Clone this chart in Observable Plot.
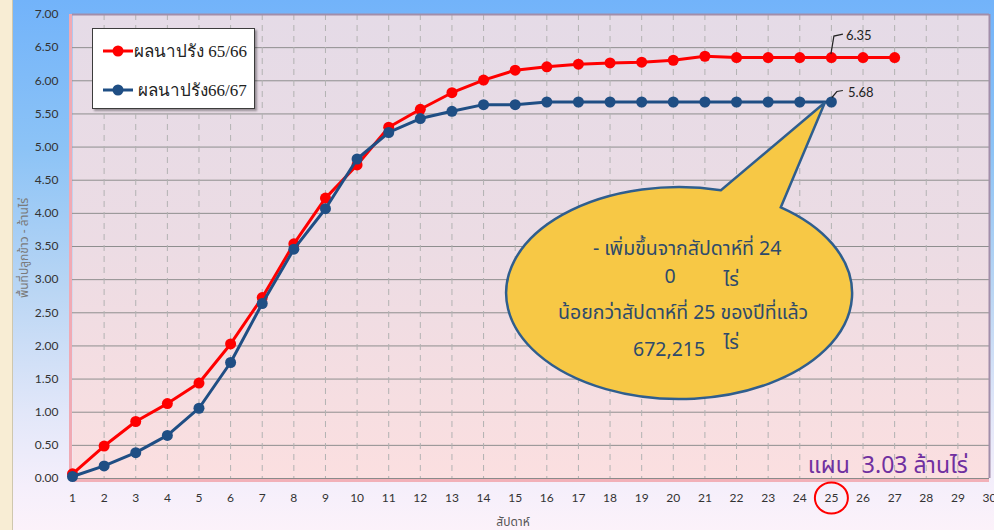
<!DOCTYPE html>
<html><head><meta charset="utf-8">
<script src="https://cdn.jsdelivr.net/npm/d3@7"></script>
<script src="https://cdn.jsdelivr.net/npm/@observablehq/plot@0.6"></script>
<style>
html,body{margin:0;padding:0;background:#fff;}
#wrap{position:relative;width:994px;height:530px;overflow:hidden;
 background:linear-gradient(to bottom,#72b3fa 0%,#8cc3f6 28%,#bad6f4 55%,#e2e7f9 78%,#f5effb 92%,#fcf2fa 100%);}
#strip{position:absolute;left:0;top:0;width:12px;height:530px;background:#f8edd4;border-right:1px solid #cfc7ae;}
#chart{position:absolute;left:0;top:0;}
#legend{position:absolute;left:92px;top:28px;width:161px;height:79px;background:#fff;border:1px solid #3c3c3c;
 box-shadow:2px 2px 2px rgba(0,0,0,0.35);font-family:"Liberation Serif","DejaVu Serif",serif;font-size:17px;color:#222;}
.entry{position:absolute;left:9px;display:flex;align-items:center;white-space:pre;}
</style></head>
<body>
<div id="wrap"><div id="strip"></div><div id="chart"></div><div id="legend"></div></div>
<script>
// ---- data ----
const weeks6566 = [1,2,3,4,5,6,7,8,9,10,11,12,13,14,15,16,17,18,19,20,21,22,23,24,25,26,27];
const rice6566  = [0.07,0.49,0.86,1.13,1.44,2.03,2.73,3.54,4.23,4.73,5.30,5.57,5.82,6.01,6.16,6.21,6.25,6.27,6.28,6.31,6.37,6.35,6.35,6.35,6.35,6.35,6.35];
const weeks6667 = [1,2,3,4,5,6,7,8,9,10,11,12,13,14,15,16,17,18,19,20,21,22,23,24,25];
const rice6667  = [0.03,0.19,0.39,0.65,1.06,1.75,2.64,3.46,4.07,4.82,5.22,5.43,5.54,5.64,5.64,5.68,5.68,5.68,5.68,5.68,5.68,5.68,5.68,5.68,5.68];
const seriesNames = ["ผลนาปรัง 65/66", "ผลนาปรัง66/67"];
const seriesColors = ["#ff0000", "#1f4e84"];
const xTicks = [1,2,3,4,5,6,7,8,9,10,11,12,13,14,15,16,17,18,19,20,21,22,23,24,25,26,27,28,29,30];
const yTicks = [0,0.5,1,1.5,2,2.5,3,3.5,4,4.5,5,5.5,6,6.5,7];
const labeledWeek = 25;
const calloutLines = ["- เพิ่มขึ้นจากสัปดาห์ที่ 24", "น้อยกว่าสัปดาห์ที่ 25 ของปีที่แล้ว"];
const calloutNumbers = ["0", "672,215"];
const calloutUnit = "ไร่";
const planText = "แผน  3.03 ล้านไร่";
const yTitle = "พื้นที่ปลูกข้าว - ล้านไร่";
const xTitle = "สัปดาห์";

const s1 = weeks6566.map((w,i)=>({week:w, value:rice6566[i]}));
const s2 = weeks6667.map((w,i)=>({week:w, value:rice6667[i]}));
const thaiFont = "Tahoma,'Noto Sans Thai','Noto Sans Thai UI',Loma,Garuda,'Leelawadee UI',sans-serif";

function annotations(index, scales, values, dim) {
  const {x, y} = scales;
  const g = d3.create("svg:g");
  // callout bubble
  const tipX = x(labeledWeek) - 6, tipY = y(5.68) + 1;
  const cx = x(20.2), cy = y(2.79), rx = 173, ry = 106;
  const t1 = -76*Math.PI/180, t2 = -54*Math.PI/180;
  const p1 = [cx+rx*Math.cos(t1), cy+ry*Math.sin(t1)];
  const p2 = [cx+rx*Math.cos(t2), cy+ry*Math.sin(t2)];
  g.append("path")
    .attr("d", `M${p2[0]},${p2[1]}L${tipX},${tipY}L${p1[0]},${p1[1]}A${rx},${ry} 0 1 0 ${p2[0]},${p2[1]}Z`)
    .attr("fill", "#f7c845").attr("stroke", "#2f5e8e").attr("stroke-width", 2.5);
  const tg = g.append("g").attr("fill", "#2e4a6b").attr("font-family", thaiFont)
    .style("font-size", "19.5px").attr("text-anchor","middle");
  const oy = cy - y(2.82);
  tg.append("text").attr("x", cx+8).attr("y", cy-43-oy).attr("dy","0.35em").text(calloutLines[0]);
  tg.append("text").attr("x", cx-9).attr("y", cy-15-oy).attr("dy","0.35em").text(calloutNumbers[0]);
  tg.append("text").attr("x", cx+52).attr("y", cy-12-oy).attr("dy","0.35em").text(calloutUnit);
  tg.append("text").attr("x", cx+4).attr("y", cy+21-oy).attr("dy","0.35em").text(calloutLines[1]);
  tg.append("text").attr("x", cx-10).attr("y", cy+58-oy).attr("dy","0.35em").text(calloutNumbers[1]);
  tg.append("text").attr("x", cx+52).attr("y", cy+51-oy).attr("dy","0.35em").text(calloutUnit);
  // value labels with leader lines
  const leaders = [
    {s: s1, path: [[0,-3],[3,-21],[12,-23]], text: [15,-22]},
    {s: s2, path: [[1,-4],[6,-10],[12,-11]], text: [17,-9]}
  ];
  leaders.forEach(({s, path, text}) => {
    const d = s.find(e => e.week === labeledWeek);
    const px = x(d.week), py = y(d.value);
    g.append("path").attr("d", "M" + path.map(([a,b]) => `${px+a},${py+b}`).join("L"))
      .attr("fill","none").attr("stroke","#222").attr("stroke-width",1.2);
    g.append("text").attr("x", px+text[0]).attr("y", py+text[1]).attr("dy","0.35em")
      .attr("text-anchor","start")
      .attr("font-family","Lato,'Open Sans',sans-serif").style("font-size","13px").attr("fill","#222")
      .text(d.value.toFixed(2));
  });
  // plan text
  g.append("text").attr("x", x(30)-21).attr("y", y(0)-5)
    .attr("text-anchor","end").attr("fill","#7030a0").style("font-size","23px")
    .attr("font-family", thaiFont).style("white-space","pre").text(planText);
  // red circle around week 25 tick label
  g.append("ellipse").attr("cx", x(labeledWeek)+0.5).attr("cy", y(0)+20).attr("rx",16.5).attr("ry",15.5)
    .attr("fill","none").attr("stroke","#ff0000").attr("stroke-width",2);
  // axis titles
  g.append("text").attr("transform", `translate(24,${(y(0)+y(7))/2+2}) rotate(-90)`)
    .attr("text-anchor","middle").attr("dy","0.35em").style("font-size","12px").attr("fill","#7a7a7a")
    .attr("font-family", thaiFont).text(yTitle);
  g.append("text").attr("x", 513).attr("y", y(0)+44).attr("dy","0.35em")
    .attr("text-anchor","middle").style("font-size","12px").attr("fill","#555")
    .attr("font-family", thaiFont).text(xTitle);
  return g.node();
}

const chart = Plot.plot({
  width: 994, height: 530,
  marginLeft: 72, marginRight: 5, marginTop: 14, marginBottom: 52,
  style: {background: "transparent", fontFamily: "Lato,'Open Sans',sans-serif", fontSize: "12px", color: "#333", overflow: "visible"},
  x: {domain: [1, 30], label: null},
  y: {domain: [0, 7], label: null},
  marks: [
    Plot.frame({fill: "url(#plotBg)", stroke: "none"}),
    Plot.gridY(yTicks.filter(v => v > 0 && v < 7), {stroke: "#8e8e8e", strokeOpacity: 1, strokeWidth: 1}),
    Plot.gridX(xTicks.filter(v => v > 1 && v < 30), {stroke: "#b2b2b2", strokeOpacity: 1, strokeDasharray: "6,5"}),
    Plot.ruleX([1], {stroke: "#f0aab4", strokeWidth: 3, dx: -2}),
    Plot.ruleY([0], {stroke: "#f2b0b8", strokeWidth: 3, dy: 2}),
    Plot.ruleY([0], {stroke: "#8a8a8a", strokeWidth: 1}),
    Plot.ruleY([7], {stroke: "#a28eaa", strokeWidth: 2}),
    Plot.ruleX([30], {stroke: "#a28eaa", strokeWidth: 2}),
    Plot.axisX(xTicks, {tickSize: 0, tickPadding: 15, tickFormat: d => d, fill: "#333", fontSize: 12}),
    Plot.axisY(yTicks, {tickSize: 0, tickPadding: 14, tickFormat: d3.format(".2f"), fill: "#333", fontSize: 12}),
    Plot.line(s1, {x: "week", y: "value", stroke: seriesColors[0], strokeWidth: 3}),
    Plot.dot(s1, {x: "week", y: "value", fill: seriesColors[0], r: 5.5}),
    Plot.line(s2, {x: "week", y: "value", stroke: seriesColors[1], strokeWidth: 3}),
    Plot.dot(s2, {x: "week", y: "value", fill: seriesColors[1], r: 5.5}),
    annotations
  ]
});
const svg = d3.select(chart);
const defs = svg.insert("defs", ":first-child");
const grad = defs.append("linearGradient").attr("id","plotBg").attr("x1",0).attr("y1",0).attr("x2",0).attr("y2",1);
grad.append("stop").attr("offset","0%").attr("stop-color","#e5dbe7");
grad.append("stop").attr("offset","50%").attr("stop-color","#ecdce4");
grad.append("stop").attr("offset","100%").attr("stop-color","#fbdfe0");
document.getElementById("chart").appendChild(chart);

// legend
const legend = d3.select("#legend");
seriesNames.forEach((name, i) => {
  const e = legend.append("div").attr("class","entry").style("top", (i === 0 ? 8 : 47) + "px");
  const sw = e.append("svg").attr("width", 32).attr("height", 22).style("margin-right", i === 0 ? "0px" : "4px");
  sw.append("line").attr("x1",1).attr("x2",31).attr("y1",11).attr("y2",11).attr("stroke",seriesColors[i]).attr("stroke-width",3);
  sw.append("circle").attr("cx",16).attr("cy",11).attr("r",5.5).attr("fill",seriesColors[i]);
  e.append("span").text(name);
});
</script>
</body></html>
